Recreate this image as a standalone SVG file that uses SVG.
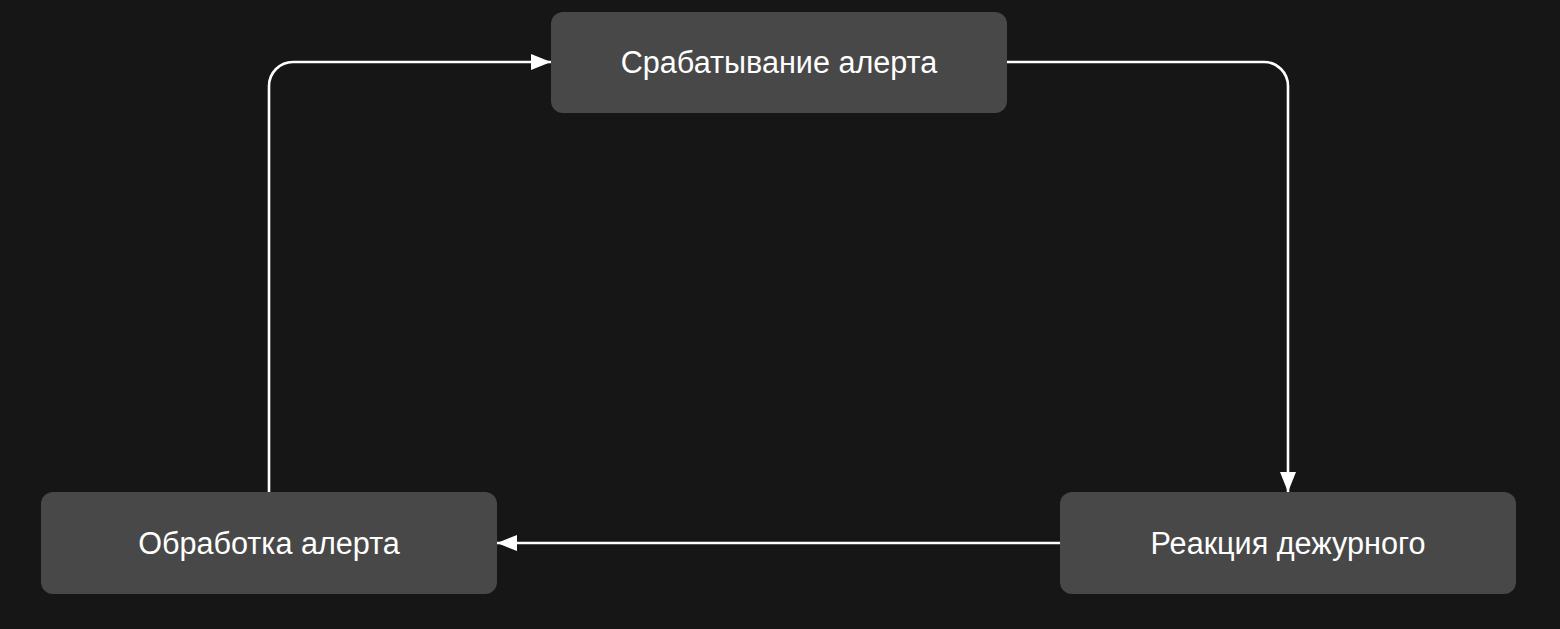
<svg xmlns="http://www.w3.org/2000/svg" width="1560" height="629" viewBox="0 0 1560 629">
<style>
.node{fill:#484848}
.label{font-family:"Liberation Sans",Arial,sans-serif;font-size:30.6px;fill:#ffffff;text-anchor:middle}
.edge{fill:none;stroke:#ffffff;stroke-width:2.6}
</style>
<defs>
<marker id="arrow" markerUnits="userSpaceOnUse" markerWidth="20" markerHeight="16" refX="20" refY="8" orient="auto">
<path d="M0,0 L20,8 L0,16 Z" fill="#ffffff"/>
</marker>
</defs>
<rect width="1560" height="629" fill="#161616"/>
<g id="connectors">
<path class="edge" d="M1007,62 H1264 A24,24 0 0 1 1288,86 V492" marker-end="url(#arrow)"/>
<path class="edge" d="M1060,543 H497" marker-end="url(#arrow)"/>
<path class="edge" d="M269,492 V86 A24,24 0 0 1 293,62 H551" marker-end="url(#arrow)"/>
</g>
<g id="node-trigger">
<rect class="node" x="551" y="12" width="456" height="101" rx="12"/>
<text class="label" x="779" y="73">Срабатывание алерта</text>
</g>
<g id="node-reaction">
<rect class="node" x="1060" y="492" width="456" height="102" rx="12"/>
<text class="label" x="1288" y="554">Реакция дежурного</text>
</g>
<g id="node-processing">
<rect class="node" x="41" y="492" width="456" height="102" rx="12"/>
<text class="label" x="269" y="554">Обработка алерта</text>
</g>
</svg>
